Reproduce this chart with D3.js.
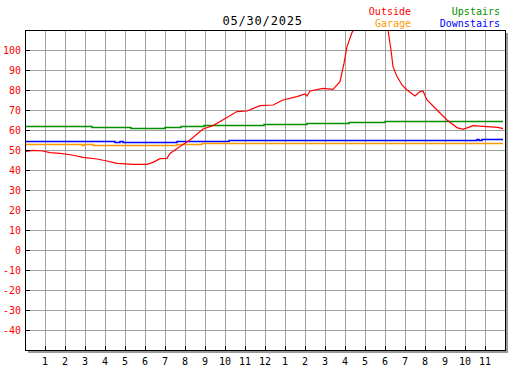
<!DOCTYPE html>
<html>
<head>
<meta charset="utf-8">
<script src="https://cdn.jsdelivr.net/npm/d3@7"></script>
<style>
  html, body { margin: 0; padding: 0; background: #ffffff; }
  svg { display: block; }
  text { font-family: "DejaVu Sans Mono", "Liberation Mono", monospace; }
</style>
</head>
<body>
<svg id="chart" width="527" height="370"></svg>
<script>
// ---- data ----
const title = "05/30/2025";
const xTickHours = [1,2,3,4,5,6,7,8,9,10,11,12,13,14,15,16,17,18,19,20,21,22,23];
const xTickLabels = ["1","2","3","4","5","6","7","8","9","10","11","12","1","2","3","4","5","6","7","8","9","10","11"];
const yTickValues = [-40,-30,-20,-10,0,10,20,30,40,50,60,70,80,90,100];

const outsideTimes  = [0,0.4,0.9,1.25,1.75,2.35,2.9,3.6,4.1,4.6,5.4,6.1,6.4,6.75,7.1,7.25,7.75,8.25,8.9,9.4,10.1,10.6,11.1,11.75,12.4,12.9,13.6,14.0,14.1,14.25,14.9,15.4,15.75,15.95,16.1,16.35,16.6,17.1,17.6,18.0,18.15,18.3,18.4,18.6,18.85,19.1,19.5,19.75,19.9,20.1,20.6,21.1,21.6,21.9,22.4,23.1,23.65,23.9];
const outsideValues = [49.2,49.8,49.5,48.7,48.3,47.5,46.3,45.5,44.5,43.3,42.8,42.8,43.8,45.7,45.8,48.3,51.7,55,60.5,62.2,66.3,69.2,69.5,72.2,72.5,75,76.7,78,77,79.5,80.8,80.3,84.2,93.3,101.7,108.7,113,117,116,112,110,100,91.7,86.7,82.5,80,77,79.2,79.5,75,70,65,61.2,60.3,62.2,61.7,61.3,60.7];

const garageTimes  = [0,2.85,2.95,3.4,7.6,8.85,21.9,22.0,23.9];
const garageValues = [53,52.5,53,52.5,53,53.7,53.3,53.7,53.7];

const upstairsTimes  = [0,1.85,3.35,5.3,7.0,7.8,8.95,11.95,14.1,16.2,18.0,23.9];
const upstairsValues = [62.2,61.8,61.3,60.8,61.3,61.8,62.5,62.8,63.3,63.8,64.5,64.5];

const downstairsTimes  = [0,4.5,4.75,4.9,7.6,10.2,22.6,22.7,22.85,23.0,23.9];
const downstairsValues = [54.5,53.8,54.5,53.8,54.3,55,55.5,55,55.5,55.5,55.5];

const legendItems = [
  {name: "Outside", color: "#ff0000", col: 0, row: 0},
  {name: "Garage", color: "#ff9900", col: 0, row: 1},
  {name: "Upstairs", color: "#009000", col: 1, row: 0},
  {name: "Downstairs", color: "#0000ff", col: 1, row: 1}
];

(function () {
// ---- layout ----
const svg = d3.select("#chart");
const pL = 25, pR = 505, pT = 30, pB = 350;
const x = d3.scaleLinear().domain([0, 24]).range([pL, pR]);
const y = d3.scaleLinear().domain([-50, 110]).range([pB, pT]);

// grid
const grid = svg.append("g");
const gridX = d3.range(1, 24);
const gridY = d3.range(-40, 110, 10);
grid.selectAll("line.gx").data(gridX).join("line").attr("class", "gx")
  .attr("x1", d => Math.round(x(d)) + 0.5).attr("x2", d => Math.round(x(d)) + 0.5)
  .attr("y1", pT).attr("y2", pB)
  .attr("stroke", "#a0a0a0").attr("stroke-width", 1);
grid.selectAll("line.gy").data(gridY).join("line").attr("class", "gy")
  .attr("y1", d => Math.round(y(d)) + 0.5).attr("y2", d => Math.round(y(d)) + 0.5)
  .attr("x1", pL).attr("x2", pR)
  .attr("stroke", "#a0a0a0").attr("stroke-width", 1);

// shadow
svg.append("rect").attr("x", pR + 1).attr("y", pT + 3).attr("width", 2).attr("height", pB - pT)
  .attr("fill", "#999999");
svg.append("rect").attr("x", pL + 3).attr("y", pB + 1).attr("width", pR - pL).attr("height", 2)
  .attr("fill", "#999999");

// clip
svg.append("defs").append("clipPath").attr("id", "plotclip")
  .append("rect").attr("x", pL + 1).attr("y", pT + 1).attr("width", pR - pL - 1).attr("height", pB - pT - 1);

const plot = svg.append("g").attr("clip-path", "url(#plotclip)");

function stepSeries(times, values, color) {
  const pts = times.map((t, i) => [t, values[i]]);
  const line = d3.line().x(d => Math.round(x(d[0]))).y(d => Math.round(y(d[1])) + 0.5).curve(d3.curveStepAfter);
  plot.append("path").datum(pts).attr("d", line)
    .attr("fill", "none").attr("stroke", color).attr("stroke-width", 1.5);
}
stepSeries(upstairsTimes, upstairsValues, "#009000");
stepSeries(downstairsTimes, downstairsValues, "#0000ff");
stepSeries(garageTimes, garageValues, "#ff9900");

const outsidePts = outsideTimes.map((t, i) => [t, outsideValues[i]]);
plot.append("path").datum(outsidePts)
  .attr("d", d3.line().x(d => x(d[0])).y(d => y(d[1])))
  .attr("fill", "none").attr("stroke", "#ff0000").attr("stroke-width", 1.2);

// frame
svg.append("rect").attr("x", pL + 0.5).attr("y", pT + 0.5).attr("width", pR - pL).attr("height", pB - pT)
  .attr("fill", "none").attr("stroke", "#000").attr("stroke-width", 1);

// y ticks + labels
const yAxis = svg.append("g");
yAxis.selectAll("line").data(yTickValues).join("line")
  .attr("x1", pL).attr("x2", pL + 5)
  .attr("y1", d => Math.round(y(d)) + 0.5).attr("y2", d => Math.round(y(d)) + 0.5)
  .attr("stroke", "#000");
yAxis.selectAll("text").data(yTickValues).join("text")
  .attr("x", 21).attr("y", d => y(d) + 4)
  .attr("text-anchor", "end").attr("font-size", "10px").attr("fill", "#ff0000")
  .text(d => d);

// x ticks + labels
const xAxis = svg.append("g");
xAxis.selectAll("line").data(xTickHours).join("line")
  .attr("x1", d => Math.round(x(d)) + 0.5).attr("x2", d => Math.round(x(d)) + 0.5)
  .attr("y1", pB - 4).attr("y2", pB)
  .attr("stroke", "#000");
xAxis.selectAll("text").data(xTickHours).join("text")
  .attr("x", d => x(d)).attr("y", 365)
  .attr("text-anchor", "middle").attr("font-size", "10px").attr("fill", "#000")
  .text((d, i) => xTickLabels[i]);

// title
svg.append("text").attr("x", 222.5).attr("y", 24.5)
  .attr("font-size", "12px").attr("letter-spacing", "0.8px").attr("fill", "#000")
  .text(title);

// legend
svg.append("g").selectAll("text").data(legendItems).join("text")
  .attr("x", d => d.col === 0 ? 411 : 500)
  .attr("y", d => d.row === 0 ? 15 : 26.5)
  .attr("text-anchor", "end").attr("font-size", "10px")
  .attr("fill", d => d.color)
  .text(d => d.name);
})();
</script>
</body>
</html>
